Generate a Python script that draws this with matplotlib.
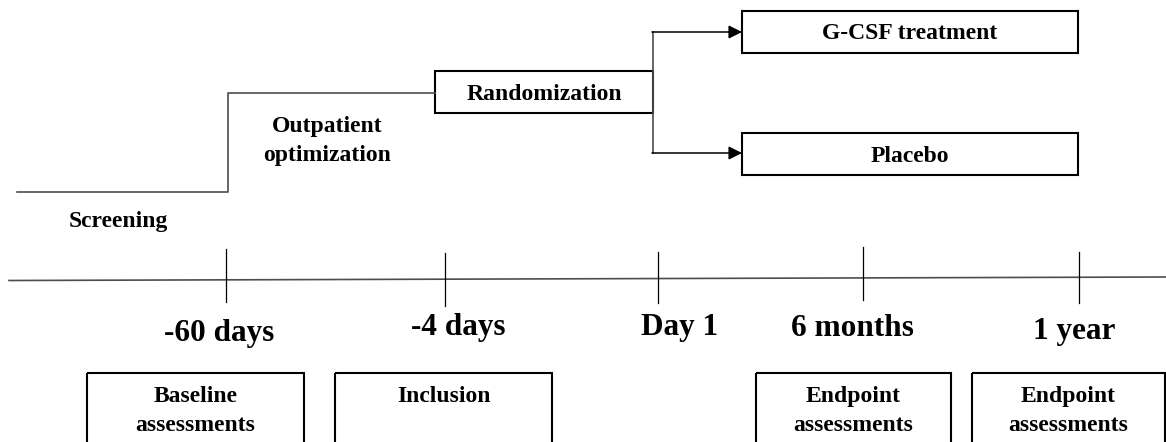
import matplotlib.pyplot as plt
from matplotlib.patches import Rectangle

plt.rcParams['font.family'] = ['Liberation Serif', 'DejaVu Serif']

# timeline labels and the boxes hung under them
time_labels = ["-60 days", "-4 days", "Day 1", "6 months", "1 year"]
bottom_labels = ["Baseline\nassessments", "Inclusion", "Endpoint\nassessments", "Endpoint\nassessments"]
arm_labels = ["G-CSF treatment", "Placebo"]
phase_labels = ["Screening", "Outpatient\noptimization", "Randomization"]

# layout (pixel coordinates of the 1166x442 canvas)
tick_x = [226, 445, 658, 863, 1079]
tick_top = [249, 253, 252, 247, 252]
tick_bot = [302, 306, 303, 300, 303]
label_x = [219, 458, 680, 852, 1074]
label_y = [333, 328, 328, 328, 332]
bottom_boxes = [(87, 304), (335, 552), (756, 951), (972, 1165)]

fig = plt.figure(figsize=(11.66, 4.42), dpi=100)
ax = fig.add_axes([0, 0, 1, 1])
ax.set_xlim(0, 1166)
ax.set_ylim(442, 0)
ax.axis('off')

line_c = '#4d4d4d'
small = 17
big = 22.5

# step line screening -> outpatient -> randomization
ax.plot([17, 228, 228, 435], [191.5, 191.5, 92.7, 92.7], color=line_c, lw=1.2)
ax.text(118, 221, phase_labels[0], ha='center', va='center', fontsize=small, fontweight='bold')
ax.text(327, 141, phase_labels[1], ha='center', va='center', fontsize=small,
        fontweight='bold', linespacing=1.45)

# randomization box
ax.add_patch(Rectangle((435, 71), 218, 42, fill=False, ec='black', lw=1.5))
ax.text(544, 94, phase_labels[2], ha='center', va='center', fontsize=small, fontweight='bold')

# branches to arms
ax.plot([653, 653], [32, 153], color=line_c, lw=1.2)
arm_y = [32, 153]
for y in arm_y:
    ax.annotate('', xy=(742, y), xytext=(652, y),
                arrowprops=dict(arrowstyle='-|>', color='black', lw=1.1, mutation_scale=20,
                                shrinkA=0, shrinkB=0))
arm_boxes = [(742, 10.7), (742, 133)]
for (bx, by), lab in zip(arm_boxes, arm_labels):
    ax.add_patch(Rectangle((bx, by), 336, 42, fill=False, ec='black', lw=1.5))
    ax.text(bx + 168, by + 23, lab, ha='center', va='center', fontsize=small, fontweight='bold')

# timeline
ax.plot([9, 1166], [280.5, 277], color=line_c, lw=1.2)
for x, t0, t1 in zip(tick_x, tick_top, tick_bot):
    ax.plot([x, x], [t0, t1], color='black', lw=0.9)
for x, y, lab in zip(label_x, label_y, time_labels):
    ax.text(x, y, lab, ha='center', va='center', fontsize=big, fontweight='bold')

# assessment boxes (cut off by the bottom edge)
for (x0, x1), lab in zip(bottom_boxes, bottom_labels):
    ax.add_patch(Rectangle((x0, 373), x1 - x0, 120, fill=False, ec='black', lw=1.5))
    yc = 411 if '\n' in lab else 396
    ax.text((x0 + x1) / 2, yc, lab, ha='center', va='center', fontsize=small,
            fontweight='bold', linespacing=1.45)

fig.savefig('out.png', dpi=100)
